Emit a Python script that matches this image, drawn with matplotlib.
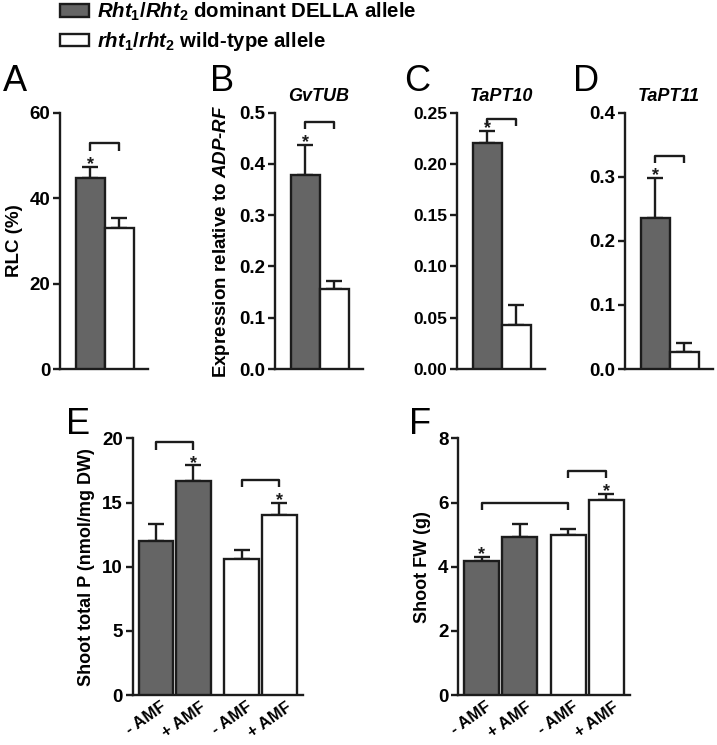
import numpy as np
import matplotlib
matplotlib.use("Agg")
import matplotlib.pyplot as plt
import matplotlib.transforms as mtransforms
from matplotlib.patches import Patch

plt.rcParams['font.family'] = ['Liberation Sans', 'DejaVu Sans']
plt.rcParams['font.weight'] = 'bold'
plt.rcParams['mathtext.fontset'] = 'custom'
plt.rcParams['mathtext.rm'] = 'Liberation Sans:bold'
plt.rcParams['mathtext.it'] = 'Liberation Sans:italic:bold'
plt.rcParams['mathtext.bf'] = 'Liberation Sans:bold'

# data
genotypes = ['Rht1/Rht2', 'rht1/rht2']
rlc_mean = [44.6, 33.1]
rlc_err = [2.8, 2.2]
gvtub_mean = [0.378, 0.156]
gvtub_err = [0.059, 0.016]
tapt10_mean = [0.220, 0.043]
tapt10_err = [0.012, 0.019]
tapt11_mean = [0.235, 0.026]
tapt11_err = [0.063, 0.014]

amf_labels = ['- AMF', '+ AMF', '- AMF', '+ AMF']
shootP_mean = [12.0, 16.7, 10.6, 14.0]
shootP_err = [1.3, 1.2, 0.7, 1.0]
shootFW_mean = [4.17, 4.93, 4.99, 6.08]
shootFW_err = [0.13, 0.40, 0.20, 0.19]

DARK = '#656565'
EDGE = '#1c1c1c'
LW = 1.7

W, H = 717, 745
fig = plt.figure(figsize=(W / 100, H / 100), dpi=100)


def rect(x0, x1, ytop, ybot):
    return [x0 / W, 1 - ybot / H, (x1 - x0) / W, (ybot - ytop) / H]


def style_axes(ax, ymax, yticks, fmt, tsize):
    for s in ['top', 'right']:
        ax.spines[s].set_visible(False)
    for s in ['left', 'bottom']:
        ax.spines[s].set_linewidth(LW)
        ax.spines[s].set_color(EDGE)
    ax.set_ylim(0, ymax)
    ax.set_yticks(yticks)
    ax.set_yticklabels([fmt.format(t) for t in yticks], fontsize=tsize, fontweight='bold')
    ax.tick_params(axis='y', length=5, width=LW, pad=2, color=EDGE)
    ax.tick_params(axis='x', length=0)


def draw_bars(ax, xpos, means, errs, colors, width=1.0):
    ax.bar(xpos, means, width=width, color=colors, edgecolor=EDGE, linewidth=LW, zorder=3)
    ax.errorbar(xpos, means, yerr=[np.zeros(len(means)), errs], fmt='none',
                ecolor=EDGE, elinewidth=LW, capsize=6, capthick=LW, zorder=2)


def bracket(ax, xpos, i, j, level, ymax):
    drop = 0.028 * ymax
    ax.plot([xpos[i], xpos[i], xpos[j], xpos[j]],
            [level - drop, level, level, level - drop],
            color=EDGE, lw=LW, solid_capstyle='butt', clip_on=False)


def star(ax, xpos, means, errs, i):
    ax.annotate('*', (xpos[i], means[i] + errs[i]), xytext=(0, 1.5), textcoords='offset points',
                ha='center', va='center', fontsize=13, fontweight='bold', color=EDGE)


# top row
top_panels = [
    ('A', 60, 148, rlc_mean, rlc_err, 60, [0, 20, 40, 60], '{:.0f}', 13.5, None, 52.8, 'RLC (%)', 3),
    ('B', 275, 363, gvtub_mean, gvtub_err, 0.5, [0, 0.1, 0.2, 0.3, 0.4, 0.5], '{:.1f}', 13.5, 'GvTUB', 0.482,
     r'Expression relative to $\mathit{ADP}$-$\mathit{RF}$', 210),
    ('C', 457, 545, tapt10_mean, tapt10_err, 0.25, [0, 0.05, 0.10, 0.15, 0.20, 0.25], '{:.2f}', 12.5, 'TaPT10',
     0.244, None, 404),
    ('D', 625, 713, tapt11_mean, tapt11_err, 0.4, [0, 0.1, 0.2, 0.3, 0.4], '{:.1f}', 13.5, 'TaPT11', 0.332,
     None, 573),
]
xpos2 = np.array([0, 1])
for letter, x0, x1, means, errs, ymax, yt, fmt, tsize, title, blevel, ylab, lx in top_panels:
    ax = fig.add_axes(rect(x0, x1, 112.7, 369))
    draw_bars(ax, xpos2, means, errs, [DARK, 'white'])
    ax.set_xlim(-1.05, 2.0)
    ax.set_xticks([])
    style_axes(ax, ymax, yt, fmt, tsize)
    bracket(ax, xpos2, 0, 1, blevel, ymax)
    star(ax, xpos2, means, errs, 0)
    if title:
        ax.set_title(title, fontsize=13, fontweight='bold', fontstyle='italic', pad=8.5)
    if ylab:
        ax.set_ylabel(ylab, fontsize=13.5, fontweight='bold', labelpad=5)
    fig.text(lx / W, 1 - 64 / H, letter, fontsize=26, fontweight='normal', va='top', ha='left')

# bottom row
xpos4 = np.array([0, 1.1, 2.5, 3.6])
colors4 = [DARK, DARK, 'white', 'white']
bottom_panels = [
    ('E', 132.7, 302.7, shootP_mean, shootP_err, 20, [0, 5, 10, 15, 20], 'Shoot total P (nmol/mg DW)',
     [(0, 1, 19.7), (2, 3, 16.8)], [1, 3], 66),
    ('F', 458.3, 630, shootFW_mean, shootFW_err, 8, [0, 2, 4, 6, 8], 'Shoot FW (g)',
     [(0, 2, 6.0), (2, 3, 7.0)], [0, 3], 409),
]
shift = mtransforms.ScaledTranslation(-10 / 100, 0, fig.dpi_scale_trans)
for letter, x0, x1, means, errs, ymax, yt, ylab, brs, stars, lx in bottom_panels:
    ax = fig.add_axes(rect(x0, x1, 438.5, 695))
    draw_bars(ax, xpos4, means, errs, colors4)
    ax.set_xlim(-0.67, 4.28)
    style_axes(ax, ymax, yt, '{:.0f}', 13.5)
    ax.set_xticks(xpos4)
    ax.set_xticklabels(amf_labels, rotation=35, ha='center', va='top',
                       fontsize=12, fontweight='bold')
    ax.tick_params(axis='x', pad=3)
    for lab in ax.get_xticklabels():
        lab.set_transform(lab.get_transform() + shift)
    for i, j, lev in brs:
        bracket(ax, xpos4, i, j, lev, ymax)
    for i in stars:
        star(ax, xpos4, means, errs, i)
    ax.set_ylabel(ylab, fontsize=13, fontweight='bold', labelpad=5)
    fig.text(lx / W, 1 - 407 / H, letter, fontsize=26, fontweight='normal', va='top', ha='left')

handles = [Patch(facecolor=DARK, edgecolor=EDGE, linewidth=LW),
           Patch(facecolor='white', edgecolor=EDGE, linewidth=LW)]
labels = [r'$\mathit{Rht_1/Rht_2}$ dominant DELLA allele',
          r'$\mathit{rht_1/rht_2}$ wild-type allele']
fig.legend(handles, labels, loc='upper left', bbox_to_anchor=(60 / W, 1 - 1 / H),
           frameon=False, prop={'size': 14.7, 'weight': 'bold'}, borderpad=0, borderaxespad=0,
           handlelength=1.42, handleheight=0.59, handletextpad=0.39, labelspacing=0.34)

fig.savefig('out.png', dpi=100)
